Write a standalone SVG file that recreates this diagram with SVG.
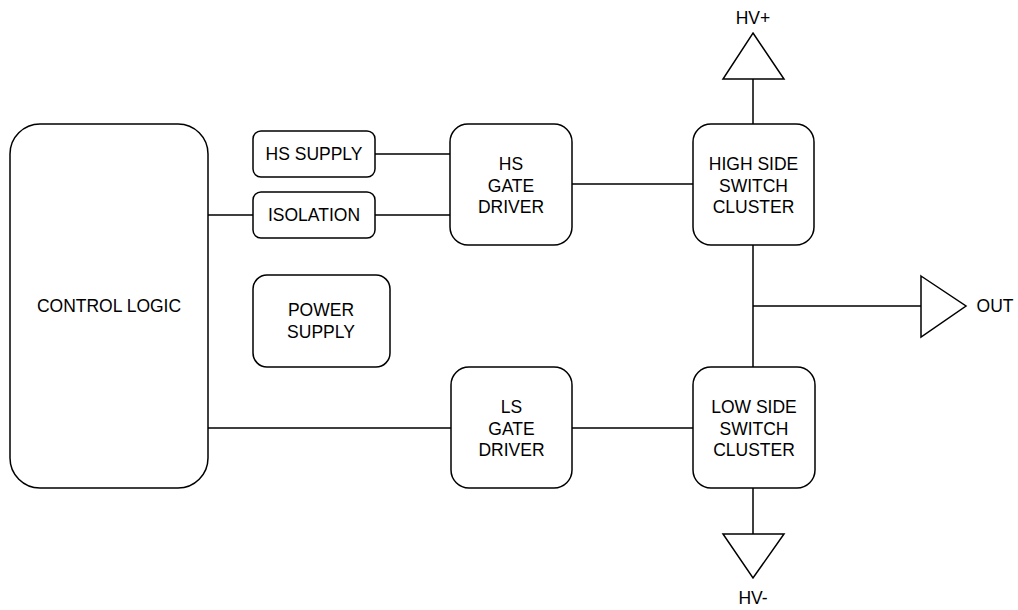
<svg xmlns="http://www.w3.org/2000/svg" width="1018" height="610" viewBox="0 0 1018 610">
<style>
.n{fill:#fff;stroke:#000;stroke-width:1.5}
.c{fill:none;stroke:#000;stroke-width:1.5}
text{font-family:"Liberation Sans",Arial,sans-serif;font-size:17.5px;fill:#000;text-anchor:middle;dominant-baseline:central}
</style>
<rect width="1018" height="610" fill="#fff"/>
<g id="connectors">
<path class="c" d="M375 154H450M375 215H450M208 215H253M572 184H693M753 79V124M753 245V367M753 306H921M753 488V534M208 428H451M572 428H693"/>
</g>
<g id="control-logic"><rect class="n" x="10" y="124" width="198" height="364" rx="30"/><text x="109" y="306">CONTROL LOGIC</text></g>
<g id="hs-supply"><rect class="n" x="253" y="131" width="122" height="46" rx="8"/><text x="314" y="154">HS SUPPLY</text></g>
<g id="isolation"><rect class="n" x="253" y="192" width="122" height="46" rx="8"/><text x="314" y="215">ISOLATION</text></g>
<g id="power-supply"><rect class="n" x="253" y="275" width="137" height="92" rx="14"/><text x="321" y="310">POWER</text><text x="321" y="332">SUPPLY</text></g>
<g id="hs-gate-driver"><rect class="n" x="450" y="124" width="122" height="121" rx="18"/><text x="511" y="164">HS</text><text x="511" y="185.5">GATE</text><text x="511" y="207">DRIVER</text></g>
<g id="high-side"><rect class="n" x="693" y="124" width="121" height="121" rx="18"/><text x="753.5" y="164">HIGH SIDE</text><text x="753.5" y="185.5">SWITCH</text><text x="753.5" y="207">CLUSTER</text></g>
<g id="ls-gate-driver"><rect class="n" x="451" y="367" width="121" height="121" rx="18"/><text x="511.5" y="407">LS</text><text x="511.5" y="428.5">GATE</text><text x="511.5" y="450">DRIVER</text></g>
<g id="low-side"><rect class="n" x="693" y="367" width="122" height="121" rx="18"/><text x="754" y="407">LOW SIDE</text><text x="754" y="428.5">SWITCH</text><text x="754" y="450">CLUSTER</text></g>
<g id="hv-plus"><polygon class="n" points="753,33 784,79 723,79"/><text x="753" y="18">HV+</text></g>
<g id="out"><polygon class="n" points="921,276 966,306 921,337"/><text x="995" y="306">OUT</text></g>
<g id="hv-minus"><polygon class="n" points="723,534 784,534 753,578"/><text x="753" y="598">HV-</text></g>
</svg>
